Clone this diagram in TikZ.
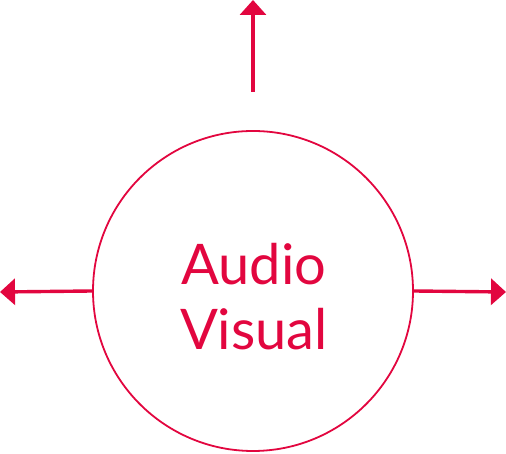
\documentclass[tikz,border=0pt]{standalone}
\usepackage{fontspec}
\setmainfont{Lato}
\usepackage{xcolor}
\usetikzlibrary{arrows.meta,positioning}
\definecolor{avred}{HTML}{E2063F}

\begin{document}
\begin{tikzpicture}[
  x=1pt,y=1pt,
  hub/.style={draw=avred,circle,line width=1.8pt,minimum size=320pt,inner sep=0pt},
  lbl/.style={text=avred,align=center,font=\fontsize{56}{65}\selectfont},
  arr/.style={-{Triangle[length=15pt,width=26pt]},line width=3.4pt,draw=avred}
]
  \useasboundingbox (0,0) rectangle (506,454);
  \node[hub] (av) at (253,163) {};
  \node[lbl] (txt) at (254,157) {Audio\\Visual};

  \coordinate (up0) at (253,362);
  \coordinate (up1) at (253,454);
  \coordinate (lt) at (0,162);
  \coordinate (rt) at (506,162);

  \draw[arr] (up0) -- (up1);
  \draw[arr] (av.west) -- (lt);
  \draw[arr] (av.east) -- (rt);
\end{tikzpicture}
\end{document}
